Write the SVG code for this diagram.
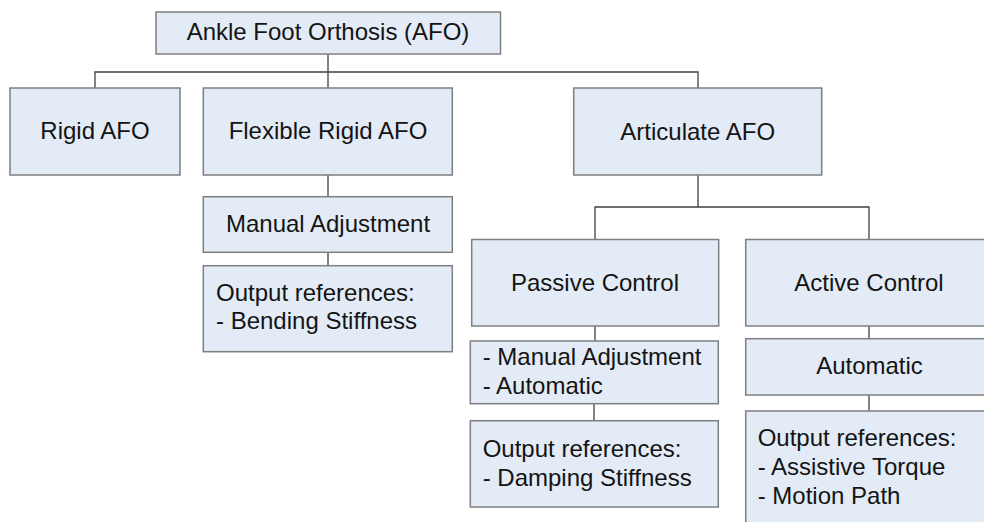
<svg xmlns="http://www.w3.org/2000/svg" width="984" height="522" viewBox="0 0 984 522">
<style>
.box{fill:#e3ebf6;stroke:#7f7f7f;stroke-width:1.5}
.t{font-family:"Liberation Sans",Arial,sans-serif;font-size:24px;fill:#141414}
.c{text-anchor:middle}
.con{stroke:#404040;stroke-width:1.3;fill:none}
</style>
<rect width="984" height="522" fill="#ffffff"/>
<g id="connectors">
<path class="con" d="M328,54V88M95,88V72H698V88"/>
<path class="con" d="M328,175V197M328,252V266"/>
<path class="con" d="M698,175V207M595,240V207H869V240"/>
<path class="con" d="M595,326V341M594,404V421"/>
<path class="con" d="M869,326V339M869,395V411"/>
</g>
<g id="afo"><rect class="box" x="156" y="12" width="344.5" height="42"/><text class="t c" x="328" y="39.5">Ankle Foot Orthosis (AFO)</text></g>
<g id="rigid"><rect class="box" x="10" y="88" width="170" height="87"/><text class="t c" x="95" y="139.3">Rigid AFO</text></g>
<g id="flexible"><rect class="box" x="203.3" y="88" width="249" height="87"/><text class="t c" x="328" y="139.3">Flexible Rigid AFO</text></g>
<g id="articulate"><rect class="box" x="573.7" y="88" width="248" height="87"/><text class="t c" x="697.7" y="140">Articulate AFO</text></g>
<g id="flex-manual"><rect class="box" x="203.3" y="196.7" width="249" height="55.6"/><text class="t c" x="328" y="232">Manual Adjustment</text></g>
<g id="flex-output"><rect class="box" x="203.3" y="265.7" width="249" height="86"/><text class="t" x="216" y="300.7">Output references:</text><text class="t" x="216" y="329.3">- Bending Stiffness</text></g>
<g id="passive"><rect class="box" x="471.7" y="239.5" width="247" height="86.5"/><text class="t c" x="595" y="290.5">Passive Control</text></g>
<g id="active"><rect class="box" x="745.7" y="239.5" width="247" height="86.5"/><text class="t c" x="869" y="290.5">Active Control</text></g>
<g id="passive-adj"><rect class="box" x="470.3" y="341" width="248" height="62.7"/><text class="t" x="482.7" y="365">- Manual Adjustment</text><text class="t" x="482.7" y="394">- Automatic</text></g>
<g id="passive-output"><rect class="box" x="470.3" y="420.7" width="248" height="86.3"/><text class="t" x="482.7" y="457.3">Output references:</text><text class="t" x="482.7" y="486">- Damping Stiffness</text></g>
<g id="active-auto"><rect class="box" x="745.7" y="338.7" width="247" height="56.3"/><text class="t c" x="869.5" y="374">Automatic</text></g>
<g id="active-output"><rect class="box" x="745.7" y="411" width="247" height="120"/><text class="t" x="757.7" y="446">Output references:</text><text class="t" x="757.7" y="475.3">- Assistive Torque</text><text class="t" x="757.7" y="504">- Motion Path</text></g>
</svg>
